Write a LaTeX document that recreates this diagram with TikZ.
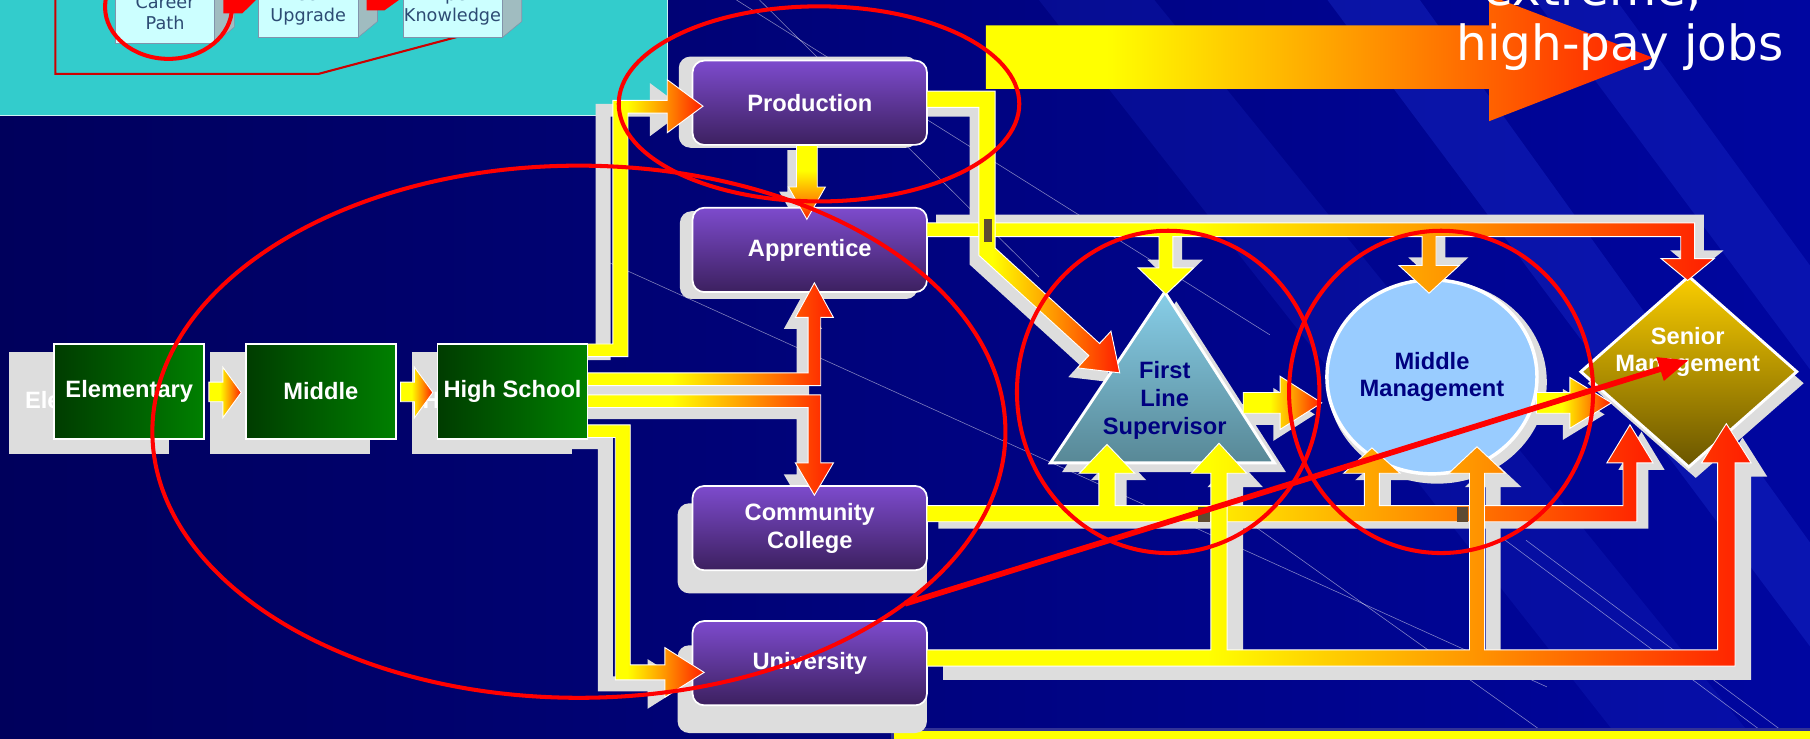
\documentclass[tikz,border=0pt]{standalone}
\usepackage{fontspec}
\setmainfont{Liberation Sans}
\newfontfamily\verdfont{DejaVu Sans}
\usetikzlibrary{arrows.meta,shapes.geometric}

\definecolor{bgdark}{RGB}{0,0,92}
\definecolor{bgblue}{RGB}{0,6,160}
\definecolor{bgstreak}{RGB}{30,50,210}
\definecolor{panelteal}{RGB}{51,204,204}
\definecolor{panelbox}{RGB}{204,255,255}
\definecolor{panelside}{RGB}{160,188,192}
\definecolor{paneltext}{RGB}{45,75,115}
\definecolor{ghostgray}{RGB}{221,221,221}
\definecolor{pipeyellow}{RGB}{255,255,0}
\definecolor{pipeorange}{RGB}{255,150,0}
\definecolor{pipered}{RGB}{255,30,0}
\definecolor{bigorange}{RGB}{255,130,0}
\definecolor{purpletop}{RGB}{125,75,205}
\definecolor{purplebot}{RGB}{60,32,95}
\definecolor{greendark}{RGB}{0,60,0}
\definecolor{greenlight}{RGB}{0,128,0}
\definecolor{trilight}{RGB}{135,206,232}
\definecolor{tridark}{RGB}{88,136,150}
\definecolor{mmblue}{RGB}{153,204,255}
\definecolor{goldtop}{RGB}{250,205,0}
\definecolor{goldbot}{RGB}{105,85,0}
\definecolor{labelnavy}{RGB}{0,0,128}
\definecolor{crossbrown}{RGB}{95,75,50}
\definecolor{bandframe}{RGB}{50,50,150}

\pgfdeclarehorizontalshading{pipeshade}{100bp}{color(0bp)=(pipeyellow); color(25bp)=(pipeyellow); color(42bp)=(pipeyellow); color(58bp)=(pipeorange); color(75bp)=(pipered); color(100bp)=(pipered)}
\pgfdeclareverticalshading{pipeshadev}{100bp}{color(0bp)=(pipered); color(25bp)=(pipered); color(40bp)=(pipeorange); color(58bp)=(pipeyellow); color(100bp)=(pipeyellow)}
\pgfdeclarehorizontalshading{bigshade}{100bp}{color(0bp)=(pipeyellow); color(25bp)=(pipeyellow); color(34bp)=(pipeyellow); color(57bp)=(bigorange); color(75bp)=(pipered); color(100bp)=(pipered)}

\newcommand{\boxfont}{\bfseries\fontsize{20.5}{24}\selectfont}
\newcommand{\panelfont}{\verdfont\fontsize{15.3}{18}\selectfont}
\newcommand{\jobsfont}{\verdfont\fontsize{42}{50}\selectfont}

% pipe outlines
\def\pipeProd{(509,298) -- (531,298) -- (531,87) -- (578,87) -- (578,69) -- (609,92) -- (578,115) -- (578,98) -- (544,98) -- (544,309) -- (509,309) -- cycle}
\def\pipeAppr{(509,323) -- (700,323) -- (700,275) -- (689,275) -- (705.5,245) -- (722,275) -- (711,275) -- (711,334) -- (509,334) -- cycle}
\def\pipeComm{(509,342) -- (711,342) -- (711,401) -- (722,401) -- (705.5,429) -- (689,401) -- (700,401) -- (700,353) -- (509,353) -- cycle}
\def\pipeUniv{(509,368) -- (546,368) -- (546,576) -- (576,576) -- (576,561) -- (610,582.5) -- (576,604) -- (576,589) -- (533,589) -- (533,379) -- (509,379) -- cycle}
\def\pipeDown{(690,126) -- (708,126) -- (708,162) -- (715,162) -- (699,190) -- (683,162) -- (690,162) -- cycle}
\def\pipeFirst{(803,79) -- (862,79) -- (862,214.8) -- (952.6,297.6) -- (962.4,286.9) -- (970,323) -- (933.4,318.7) -- (943.2,308) -- (848,221.2) -- (848,93) -- (803,93) -- cycle}
\def\pipeTop{(803,193) -- (1468,193) -- (1468,224) -- (1485,224) -- (1462,243) -- (1439,224) -- (1456,224) -- (1456,205) -- (1244,205) -- (1244,230) -- (1264,230) -- (1238,254) -- (1212,230) -- (1232,230) -- (1232,205) -- (1016,205) -- (1016,232) -- (1034,232) -- (1010,255) -- (986,232) -- (1004,232) -- (1004,205) -- (803,205) -- cycle}
\def\pipeCollege{(803,452) -- (803,438) -- (952,438) -- (952,410) -- (935,410) -- (959,385) -- (983,410) -- (966,410) -- (966,438) -- (1182,438) -- (1182,410) -- (1164,410) -- (1188.5,388) -- (1213,410) -- (1195,410) -- (1195,438) -- (1406,438) -- (1406,401) -- (1392,401) -- (1412,368) -- (1432,401) -- (1418,401) -- (1418,452) -- cycle}
\def\pipeUniversity{(803,577) -- (803,563) -- (1049,563) -- (1049,410) -- (1032,410) -- (1056,384) -- (1080,410) -- (1063,410) -- (1063,563) -- (1273,563) -- (1273,410) -- (1255,410) -- (1279.5,387) -- (1304,410) -- (1286,410) -- (1286,563) -- (1488,563) -- (1488,401) -- (1474,401) -- (1495.5,367) -- (1517,401) -- (1503,401) -- (1503,577) -- cycle}
\def\arrowFM{(1077,340) -- (1109,340) -- (1109,326) -- (1145,349) -- (1109,372) -- (1109,358) -- (1077,358) -- cycle}
\def\arrowMS{(1331,340) -- (1360,340) -- (1360,327) -- (1396,349) -- (1360,371) -- (1360,358) -- (1331,358) -- cycle}

\begin{document}
\begin{tikzpicture}[x=1pt, y=-1pt,
    schoolbox/.style={draw=white, line width=1.5pt, left color=greendark, right color=greenlight,
        minimum width=130pt, minimum height=82pt, inner sep=0pt, text=white, font=\boxfont},
    ghostbox/.style={fill=ghostgray, minimum width=139pt, minimum height=88pt, inner sep=0pt,
        text=white, font=\boxfont},
    pathbox/.style={draw=white, line width=1.5pt, rounded corners=10pt, top color=purpletop,
        bottom color=purplebot, minimum width=203pt, minimum height=73pt, inner sep=0pt,
        text=white, font=\boxfont, align=center},
    pipe/.style={shading=pipeshade, draw=white, line width=0.8pt},
    annot/.style={draw=red, line width=3.5pt}]
    \useasboundingbox (0,0) rectangle (1568,640);
    \clip (0,0) rectangle (1568,640);

    % Background
    \shade[left color=bgdark, right color=bgblue] (0,0) rectangle (1568,640);
    \fill[bgstreak, opacity=0.35] (1150,0) -- (1230,0) -- (1568,470) -- (1568,560) -- cycle;
    \fill[bgstreak, opacity=0.3] (1330,0) -- (1400,0) -- (1568,230) -- (1568,320) -- cycle;
    \fill[bgstreak, opacity=0.2] (900,0) -- (1000,0) -- (1568,700) -- (1450,700) -- cycle;
    \foreach \a/\b/\c/\d in {520/224/1340/595, 638/0/1100/290, 658/0/900/240,
        1087/456/1345/640, 1304/468/1535/640, 1322/468/1553/640} {
        \draw[white, opacity=0.5, line width=0.5pt] (\a,\b) -- (\c,\d);
    }

    % Teal panel with the career boxes
    \fill[panelteal] (0,-5) rectangle (578,100);
    \draw[white!75!panelteal, line width=1.2pt] (0,100) -- (578,100) -- (578,-5);
    \draw[red!80!black, line width=1.8pt] (48,0) -- (48,64) -- (276,64) -- (396,32);
    \foreach \xa/\yb in {100/37.5, 224/32.6, 349/32.6} {
        \fill[panelside, draw=paneltext!60, line width=0.5pt]
            (\xa+86,\yb) -- (\xa+103,\yb-14) -- (\xa+103,-20) -- (\xa+86,-20) -- cycle;
        \filldraw[fill=panelbox, draw=paneltext!60, line width=0.5pt] (\xa,-20) rectangle (\xa+86,\yb);
    }
    \fill[red] (193.5,0) -- (193.5,11.5) -- (210,11.5) -- (221.7,0) -- cycle;
    \fill[red] (317.5,0) -- (317.5,9) -- (333,9) -- (345.6,0) -- cycle;
    \node[text=paneltext, font=\panelfont, align=center] (career) at (143,11) {Career\\Path};
    \node[text=paneltext, font=\panelfont, align=center] (tech) at (267,5.4) {Tech\\Upgrade};
    \node[text=paneltext, font=\panelfont, align=center] (expert) at (392,5.4) {Expert\\Knowledge};

    % Big arrow towards the jobs
    \shade[shading=bigshade] (854,22) -- (1290,22) -- (1290,-4) -- (1432,50) -- (1290,105)
        -- (1290,77) -- (854,77) -- cycle;
    \node[text=white, font=\jobsfont, anchor=base west] (extreme) at (1282,5) {extreme,};
    \node[text=white, font=\jobsfont, anchor=base] (jobs) at (1403.5,52) {high-pay jobs};

    % Yellow band at the bottom
    \filldraw[fill=pipeyellow, draw=bandframe, line width=3pt] (773,632) rectangle (1580,660);

    % Shadows
    \node[ghostbox] (elemghost) at (77,349) {Elementary};
    \node[ghostbox] (midghost) at (251,349) {};
    \node[ghostbox] (hsghost) at (426,349) {High School};
    \fill[ghostgray, rounded corners=10pt] (588,49) rectangle (795,128);
    \fill[ghostgray, rounded corners=10pt] (589,183) rectangle (795,259);
    \fill[ghostgray, rounded corners=10pt] (587,436) rectangle (803,514);
    \node[text=white, font=\boxfont, align=center] (ccghost) at (701.5,473) {Community\\College};
    \fill[ghostgray, rounded corners=10pt] (587,559) rectangle (803,635);
    \fill[ghostgray] (1019,261) -- (1114,409) -- (920,409) -- cycle;
    \fill[ghostgray] (1245,331) ellipse [x radius=95pt, y radius=88pt];
    \fill[ghostgray] (1469,250) -- (1562.5,332) -- (1469,414) -- (1375.5,332) -- cycle;
    \fill[ghostgray, shift={(-15,3)}] \pipeProd;
    \fill[ghostgray, shift={(-10,10)}] \pipeAppr;
    \fill[ghostgray, shift={(-10,10)}] \pipeComm;
    \fill[ghostgray, shift={(-15,10)}] \pipeUniv;
    \fill[ghostgray, shift={(-8,4)}] \pipeDown;
    \fill[ghostgray, shift={(-8,8)}] \pipeFirst;
    \fill[ghostgray, shift={(8,-7)}] \pipeTop;
    \fill[ghostgray, shift={(10,6)}] \pipeCollege;
    \fill[ghostgray, shift={(14,12)}] \pipeUniversity;
    \fill[ghostgray, shift={(-6,10)}] \arrowFM;
    \fill[ghostgray, shift={(-6,10)}] \arrowMS;

    % School boxes
    \node[schoolbox] (elem) at (112,339) {Elementary};
    \node[schoolbox] (mid) at (278,339) {Middle};
    \node[schoolbox] (hs) at (444,339) {High School};

    % Training boxes
    \node[pathbox] (prod) at (701.5,89) {Production};
    \node[pathbox] (appr) at (701.5,216.5) {Apprentice};
    \node[pathbox] (cc) at (701.5,457.5) {Community\\College};
    \node[pathbox] (univ) at (701.5,574.5) {University};

    % Career levels
    \shade[top color=trilight, bottom color=tridark, draw=white, line width=2.5pt]
        (1009,253) -- (1104,401) -- (910,401) -- cycle;
    \node[text=labelnavy, font=\boxfont, align=center] (fls) at (1009,347) {First\\Line\\Supervisor};
    \node[ellipse, minimum width=182pt, minimum height=168pt, inner sep=0pt, fill=mmblue,
        draw=white, line width=3pt, text=labelnavy, font=\boxfont, align=center]
        (mm) at (1240.5,326.5) {Middle\\Management};
    \shade[top color=goldtop, bottom color=goldbot, draw=white, line width=2.5pt]
        (1463,239.5) -- (1556.5,322) -- (1463,404.5) -- (1369.5,322) -- cycle;
    \node[text=white, font=\boxfont, align=center] (senior) at (1462,305) {Senior\\Management};

    % Pipes
    \foreach \xa in {181,347} {
        \shade[pipe] (\xa,331) -- (\xa+12,331) -- (\xa+12,318) -- (\xa+28,340) -- (\xa+12,362)
            -- (\xa+12,348) -- (\xa,348) -- cycle;
    }
    \shade[pipe] \pipeProd;
    \shade[pipe] \pipeAppr;
    \shade[pipe] \pipeComm;
    \shade[pipe] \pipeUniv;
    \shade[pipe, shading=pipeshadev] \pipeDown;
    \shade[pipe] \pipeTop;
    \shade[pipe] \pipeFirst;
    \shade[pipe] \pipeCollege;
    \shade[pipe] \pipeUniversity;
    \shade[pipe] \arrowFM;
    \shade[pipe] \arrowMS;
    \fill[crossbrown] (852,190) rectangle (859,210);
    \fill[crossbrown] (1038,439) rectangle (1048,452);
    \fill[crossbrown] (1262,439) rectangle (1272,452);

    % Red marks
    \draw[annot] (146,6) ellipse [x radius=55pt, y radius=45pt];
    \draw[annot] (709.5,90) ellipse [x radius=173.5pt, y radius=84.5pt];
    \draw[annot] (501.5,374) ellipse [x radius=369.5pt, y radius=230.5pt];
    \draw[annot] (1012,339.5) ellipse [x radius=131pt, y radius=139.6pt];
    \draw[annot] (1248.4,339.5) ellipse [x radius=131.7pt, y radius=139.6pt];
    \coordinate (markstart) at (784,523);
    \coordinate (markend) at (1463,312);
    \draw[red, line width=5pt, -{Triangle[length=26pt,width=20pt]}] (markstart) -- (markend);
\end{tikzpicture}
\end{document}
